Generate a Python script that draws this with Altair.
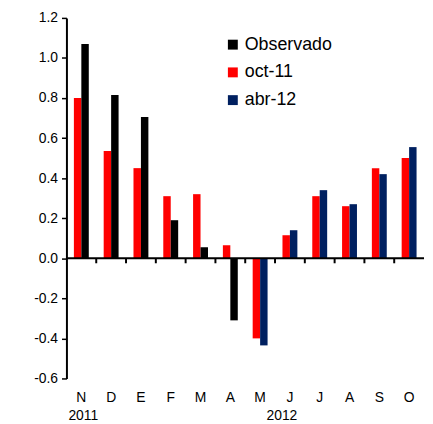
import altair as alt
import pandas as pd

months = ["Nov", "Dic", "Ene", "Feb", "Mar", "Abr", "May", "Jun", "Jul", "Ago", "Sep", "Oct"]
observado = [1.07, 0.815, 0.705, 0.19, 0.055, -0.31]          # Nov..Abr
oct11 = [0.80, 0.535, 0.45, 0.31, 0.32, 0.065, -0.40, 0.115, 0.31, 0.26, 0.45, 0.50]
abr12 = [-0.435, 0.14, 0.34, 0.27, 0.42, 0.555]                  # May..Oct
years = ["2011", "2012"]
year_months = ["Nov", "May"]
year_dx = [2, 22]

rows = []
for i, m in enumerate(months):
    rows.append({"mes": m, "serie": "oct-11", "slot": "L", "valor": oct11[i]})
for i, v in enumerate(observado):
    rows.append({"mes": months[i], "serie": "Observado", "slot": "R", "valor": v})
for i, v in enumerate(abr12):
    rows.append({"mes": months[6 + i], "serie": "abr-12", "slot": "R", "valor": v})
df = pd.DataFrame(rows)

W, H = 361, 364
font = "Liberation Sans"

xscale = alt.Scale(domain=months, paddingInner=0, paddingOuter=0)
yscale = alt.Scale(domain=[-0.6, 1.2], nice=False)

bars = alt.Chart(df).mark_bar().encode(
    x=alt.X("mes:N", scale=xscale, sort=months, title=None,
            axis=alt.Axis(domain=False, ticks=False, labelAngle=0, labelFontSize=14,
                          labelFont=font, labelColor="black", labelPadding=12,
                          labelExpr="substring(datum.value, 0, 1)")),
    xOffset=alt.XOffset("slot:N", scale=alt.Scale(domain=["L", "R"], paddingOuter=1.0, paddingInner=0)),
    y=alt.Y("valor:Q", scale=yscale, title=None,
            axis=alt.Axis(values=[-0.6, -0.4, -0.2, 0.0, 0.2, 0.4, 0.6, 0.8, 1.0, 1.2],
                          labelExpr="datum.value < 0 ? '-' + format(-datum.value, '.1f') : format(datum.value, '.1f')",
                          grid=False, domainColor="black", domainWidth=2,
                          tickColor="black", tickWidth=1.5, tickSize=5,
                          labelFontSize=14, labelFont=font, labelColor="black", labelPadding=4)),
    color=alt.Color("serie:N",
                    scale=alt.Scale(domain=["Observado", "oct-11", "abr-12"],
                                    range=["#000000", "#ff0000", "#002060"]),
                    legend=alt.Legend(title=None, orient="none", legendX=159, legendY=18,
                                      symbolType="square", symbolSize=100, symbolStrokeWidth=0,
                                      labelFontSize=18, labelFont=font, labelColor="black",
                                      labelOffset=3, rowPadding=10)),
)

zero = alt.Chart(pd.DataFrame({"v": [0.0]})).mark_rule(color="black", strokeWidth=2).encode(
    y=alt.Y("v:Q", scale=yscale)
)

ticks_df = pd.DataFrame({"mes": months[1:], "y0": [0.0] * 11, "y1": [-0.025] * 11})
ticks = alt.Chart(ticks_df).mark_rule(color="black", strokeWidth=2).encode(
    x=alt.X("mes:N", scale=xscale, sort=months, bandPosition=0),
    y=alt.Y("y0:Q", scale=yscale),
    y2="y1:Q",
)

year_df = pd.DataFrame({"mes": year_months, "anio": years, "dx": year_dx})
year1 = alt.Chart(year_df.iloc[[0]]).mark_text(fontSize=14, font=font, color="black", baseline="middle", dx=year_dx[0]).encode(
    x=alt.X("mes:N", scale=xscale, sort=months), y=alt.value(H + 38), text="anio:N")
year2 = alt.Chart(year_df.iloc[[1]]).mark_text(fontSize=14, font=font, color="black", baseline="middle", dx=year_dx[1]).encode(
    x=alt.X("mes:N", scale=xscale, sort=months), y=alt.value(H + 38), text="anio:N")

chart = alt.layer(bars, zero, ticks, year1, year2).properties(
    width=W, height=H, padding={"left": 25, "top": 1, "right": 0, "bottom": 0}
).configure_view(stroke=None).configure_axis(labelFont=font)

chart.save("out.html", embed_options={"renderer": "svg", "actions": False})
